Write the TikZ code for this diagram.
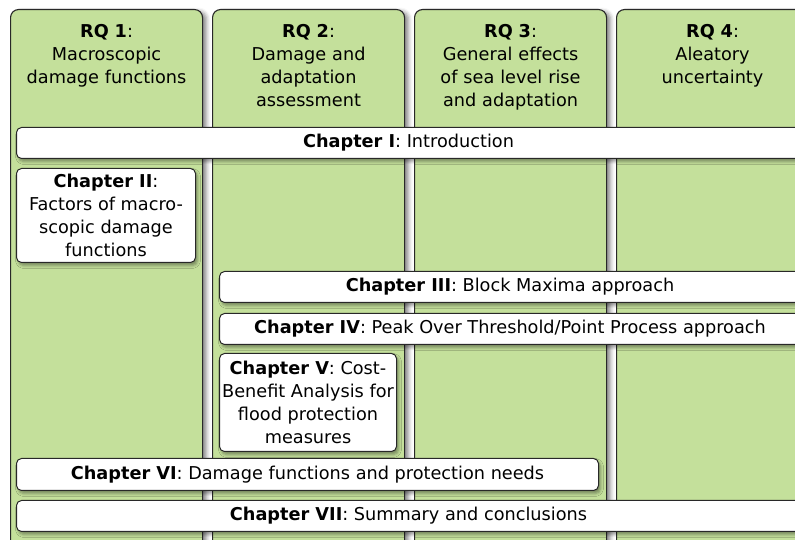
\documentclass[tikz,border=0pt]{standalone}
\usepackage{fontspec}
\setmainfont{DejaVu Sans}
\usepackage{xcolor}
\usepackage{tikz}
\usetikzlibrary{positioning}
\usetikzlibrary{shadows.blur}

\definecolor{rqgreen}{RGB}{196,224,155}
\definecolor{lineg}{RGB}{40,40,40}

\begin{document}
\begin{tikzpicture}[x=1pt,y=1pt,
  every node/.style={font=\fontsize{17.7}{23}\selectfont},
  rq/.style={draw=lineg,line width=1.1pt,fill=rqgreen,rounded corners=8pt,
    minimum width=192pt,minimum height=560pt,anchor=north west,
    blur shadow={shadow xshift=4pt,shadow yshift=-2pt,shadow blur radius=4pt,shadow opacity=45}},
  head/.style={anchor=north,align=center,inner sep=0pt,text width=188pt},
  chap/.style={draw=lineg,line width=1pt,fill=white,rounded corners=5pt,
    anchor=north west,align=center,inner sep=0.5pt,
    blur shadow={shadow xshift=2pt,shadow yshift=-3pt,shadow blur radius=3pt,shadow opacity=40}}]
\useasboundingbox (0,0) rectangle (795,540);
\clip (0,0) rectangle (795,540);

% research questions
\node[rq] (Q1) at (10,531) {};
\node[rq] (Q2) at (212,531) {};
\node[rq] (Q3) at (414,531) {};
\node[rq] (Q4) at (616,531) {};

\node[head,below=15pt of Q1.north] (H1) {\textbf{RQ 1}:\\Macroscopic\\damage functions};
\node[head,below=15pt of Q2.north] (H2) {\textbf{RQ 2}:\\Damage and\\adaptation\\assessment};
\node[head,below=15pt of Q3.north] (H3) {\textbf{RQ 3}:\\General effects\\of sea level rise\\and adaptation};
\node[head,below=15pt of Q4.north] (H4) {\textbf{RQ 4}:\\Aleatory\\uncertainty};

% chapters
\node[chap,minimum width=784pt,minimum height=31pt] (C1) at (16,413) {\textbf{Chapter I}: Introduction};
\node[chap,minimum width=179pt,minimum height=94pt] (C2) at (16,372) {\textbf{Chapter II}:\\Factors of macro-\\scopic damage\\functions};
\node[chap,minimum width=581pt,minimum height=31pt] (C3) at (219,269) {\textbf{Chapter III}: Block Maxima approach};
\node[chap,minimum width=581pt,minimum height=31pt] (C4) at (219,227) {\textbf{Chapter IV}: Peak Over Threshold/Point Process approach};
\node[chap,minimum width=177pt,minimum height=98pt] (C5) at (219,187) {\textbf{Chapter V}: Cost-\\Benefit Analysis for\\flood protection\\measures};
\node[chap,minimum width=582pt,minimum height=32pt] (C6) at (16,82) {\textbf{Chapter VI}: Damage functions and protection needs};
\node[chap,minimum width=784pt,minimum height=31pt] (C7) at (16,40) {\textbf{Chapter VII}: Summary and conclusions};
\end{tikzpicture}
\end{document}
